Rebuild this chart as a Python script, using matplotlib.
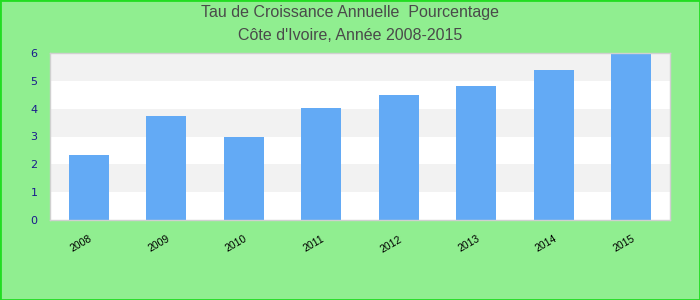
import matplotlib
matplotlib.use("Agg")
import matplotlib.pyplot as plt
import numpy as np

years = ["2008", "2009", "2010", "2011", "2012", "2013", "2014", "2015"]
growth = [2.34, 3.74, 2.99, 4.03, 4.5, 4.82, 5.4, 5.98]

fig = plt.figure(figsize=(7, 3), dpi=100, facecolor="#90ee90")
ax = fig.add_axes([50 / 700, 80 / 300, 620 / 700, 167 / 300])
ax.set_facecolor("white")

# alternating horizontal bands
for i in range(6):
    if i % 2 == 1:
        ax.axhspan(i, i + 1, color="#f2f2f2", zorder=0, lw=0)

x = np.arange(len(years))
ax.bar(x, growth, width=0.52, color="#63aaf5", zorder=2)

ax.set_xlim(-0.5, len(years) - 0.5)
ax.set_ylim(0, 6)
ax.set_yticks(range(7))
ax.set_xticks(x)
ax.set_xticklabels(years, rotation=30, ha="right", rotation_mode="anchor",
                   fontsize=7.5, family="Liberation Sans")
for lbl in ax.get_yticklabels():
    lbl.set_color("#1a1a8c")
    lbl.set_fontsize(8)
ax.tick_params(axis="both", length=0)
ax.tick_params(axis="y", pad=9)
ax.tick_params(axis="x", pad=10)
for s in ax.spines.values():
    s.set_color("#d0d0d0")
    s.set_linewidth(1)

fig.text(0.5, 1 - 13 / 300, "Tau de Croissance Annuelle  Pourcentage", ha="center",
         va="center", fontsize=11.5, color="#4a4a4a", family="Liberation Sans")
fig.text(0.5, 1 - 35 / 300, "Côte d'Ivoire, Année 2008-2015", ha="center",
         va="center", fontsize=11.5, color="#4a4a4a", family="Liberation Sans")

# bright green frame round the figure
fig.patches.append(plt.Rectangle((0, 0), 1, 1, transform=fig.transFigure,
                                 fill=False, edgecolor="#22dd22", lw=2))

fig.savefig("out.png", dpi=100, facecolor=fig.get_facecolor())
